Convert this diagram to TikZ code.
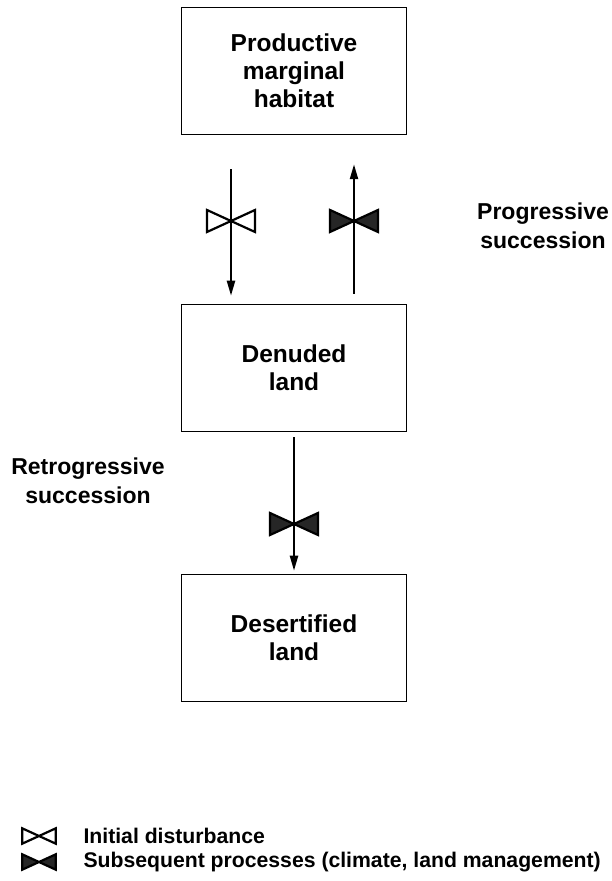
\documentclass[tikz,border=0pt]{standalone}
\usepackage{fontspec}
\setmainfont{Liberation Sans}
\usetikzlibrary{arrows.meta, positioning, calc}

\tikzset{
  stagebox/.style={draw, line width=1.5pt, minimum width=225pt, minimum height=127pt,
    align=center, font=\fontsize{24.5}{28}\selectfont\bfseries},
  flow/.style={line width=2.2pt, -{Triangle[length=15pt,width=8pt]}},
  sidelabel/.style={align=center, font=\fontsize{23}{29}\selectfont\bfseries},
  keylabel/.style={anchor=west, font=\fontsize{21.2}{24}\selectfont\bfseries},
  bowopen/.pic={\draw[line width=2.2pt, fill=white, line join=miter] (-24,11) -- (24,-11) -- (24,11) -- (-24,-11) -- cycle;},
  bowfill/.pic={\draw[line width=2.2pt, fill=black!85, line join=miter] (-24,11) -- (24,-11) -- (24,11) -- (-24,-11) -- cycle;}
}

\begin{document}
\begin{tikzpicture}[x=1pt, y=1pt]
  \useasboundingbox (0,0) rectangle (612,881);

  % Stufen
  \node[stagebox] (habitat) at (294,810) {Productive\\marginal\\habitat};
  \node[stagebox] (denuded) at (294,513) {Denuded\\land};
  \node[stagebox] (desert) at (294,243) {Desertified\\land};

  % Pfeile zwischen den Stufen
  \draw[flow] ([xshift=-63pt, yshift=-34pt]habitat.south) -- ([xshift=-63pt, yshift=8pt]denuded.north);
  \draw[flow] ([xshift=60pt, yshift=10pt]denuded.north) -- ([xshift=60pt, yshift=-29pt]habitat.south);
  \draw[flow] ([yshift=-5pt]denuded.south) -- ([yshift=3pt]desert.north);

  % Schleifen auf den Pfeilen
  \pic at (231,660) {bowopen};
  \pic at (354,660) {bowfill};
  \pic at (294,357) {bowfill};

  % Beschriftung seitlich
  \node[sidelabel] (prog) at (543,655) {Progressive\\succession};
  \node[sidelabel] (retro) at (88,400) {Retrogressive\\succession};

  % Legende
  \pic[scale=0.7] at (39,45) {bowopen};
  \pic[scale=0.7] at (39,19) {bowfill};
  \node[keylabel] (keyinit) at (80,45) {Initial disturbance};
  \node[keylabel] (keysub) at (80,19) {Subsequent processes (climate, land management)};
\end{tikzpicture}
\end{document}
